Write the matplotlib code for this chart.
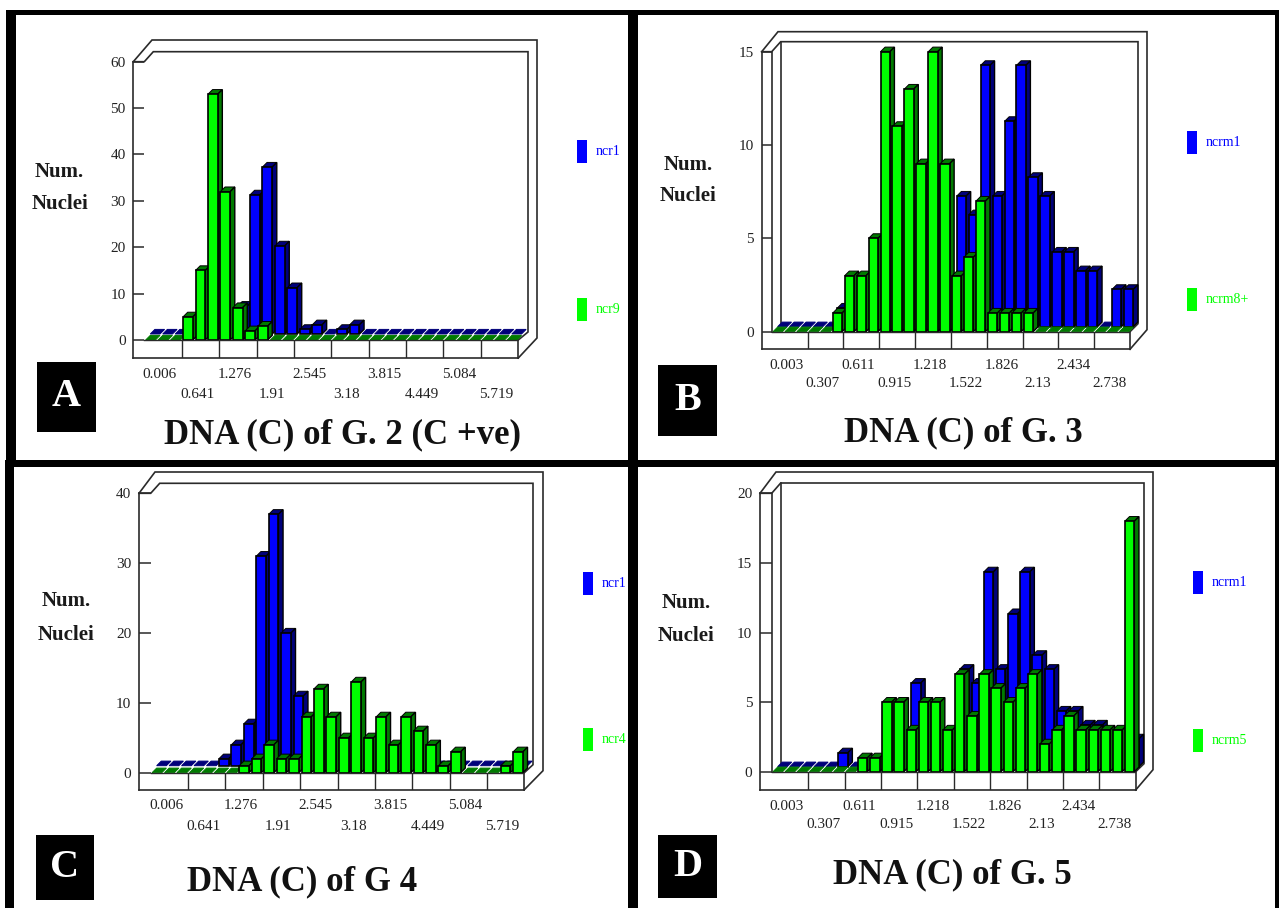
import matplotlib

matplotlib.use("Agg")

import matplotlib.pyplot as plt
from matplotlib.patches import Rectangle

plt.rcParams["font.family"] = ["Liberation Serif", "DejaVu Serif"]

WIDTH, HEIGHT = 1279, 908

# counts per bin
ncr1 = [0, 0, 0, 0, 0, 1, 3, 6, 30, 36, 19, 10, 1, 2, 0, 1, 2, 0, 0, 0, 0, 0, 0, 0, 0, 0, 0, 0, 0, 0]
ncr9 = [0, 0, 0, 5, 15, 53, 32, 7, 2, 3, 0, 0, 0, 0, 0, 0, 0, 0, 0, 0, 0, 0, 0, 0, 0, 0, 0, 0, 0, 0]
ncr4 = [0, 0, 0, 0, 0, 0, 0, 1, 2, 4, 2, 2, 8, 12, 8, 5, 13, 5, 8, 4, 8, 6, 4, 1, 3, 0, 0, 0, 1, 3]
ncrm1 = [0, 0, 0, 0, 0, 1, 0, 0, 0, 0, 0, 6, 0, 0, 0, 7, 6, 14, 7, 11, 14, 8, 7, 4, 4, 3, 3, 0, 2, 2]
ncrm8 = [0, 0, 0, 0, 0, 1, 3, 3, 5, 15, 11, 13, 9, 15, 9, 3, 4, 7, 1, 1, 1, 1, 0, 0, 0, 0, 0, 0, 0, 0]
ncrm5 = [0, 0, 0, 0, 0, 0, 0, 1, 1, 5, 5, 3, 5, 5, 3, 7, 4, 7, 6, 5, 6, 7, 2, 3, 4, 3, 3, 3, 3, 18]

wide_labels = ["0.006", "0.641", "1.276", "1.91", "2.545", "3.18", "3.815", "4.449", "5.084", "5.719"]
narrow_labels = ["0.003", "0.307", "0.611", "0.915", "1.218", "1.522", "1.826", "2.13", "2.434", "2.738"]

# layout of each panel, in pixels of the figure
panels = [
    dict(letter="A", title="DNA (C) of G. 2 (C +ve)", blue=ncr1, green=ncr9, labels=wide_labels,
         names=("ncr1", "ncr9"), yticks=[0, 10, 20, 30, 40, 50, 60], ymax=60,
         left=133.3, x0=144.3, right=518.3, floor=340, top=61.7, bottom=358,
         in_right=528, out_right=537, in_top=51.7, out_top=40, corner=152, walls=False,
         shift=6, row_gap=20, box=(37, 362, 96, 432), title_xy=(342, 435),
         num_xy=(59, 172, 60, 204), leg_x=577, leg_y=(140, 298)),
    dict(letter="B", title="DNA (C) of G. 3", blue=ncrm1, green=ncrm8, labels=narrow_labels,
         names=("ncrm1", "ncrm8+"), yticks=[0, 5, 10, 15], ymax=15,
         left=761.7, x0=771.7, right=1130, floor=331.7, top=51.7, bottom=349.3,
         in_right=1138, out_right=1147, in_top=41.7, out_top=31.7, corner=778, walls=True,
         shift=5, row_gap=18, box=(658, 365, 717, 436), title_xy=(963, 433),
         num_xy=(688, 165, 688, 196), leg_x=1187, leg_y=(131, 288)),
    dict(letter="C", title="DNA (C) of G 4", blue=ncr1, green=ncr4, labels=wide_labels,
         names=("ncr1", "ncr4"), yticks=[0, 10, 20, 30, 40], ymax=40,
         left=139, x0=150.7, right=524.3, floor=772.7, top=493.3, bottom=789.7,
         in_right=533, out_right=543, in_top=483.3, out_top=472, corner=155, walls=False,
         shift=7, row_gap=21, box=(36, 835, 94, 900), title_xy=(302, 882),
         num_xy=(66, 601, 66, 635), leg_x=583, leg_y=(572, 728)),
    dict(letter="D", title="DNA (C) of G. 5", blue=ncrm1, green=ncrm5, labels=narrow_labels,
         names=("ncrm1", "ncrm5"), yticks=[0, 5, 10, 15, 20], ymax=20,
         left=760, x0=771.7, right=1135.7, floor=771.7, top=493.3, bottom=790,
         in_right=1144, out_right=1153, in_top=483, out_top=472, corner=776, walls=True,
         shift=5, row_gap=18, box=(658, 835, 717, 898), title_xy=(952, 875),
         num_xy=(686, 603, 686, 636), leg_x=1193, leg_y=(571, 729)),
]

BLUE, DARK_BLUE = "#0000ff", "#00007a"
GREEN, DARK_GREEN = "#00ff00", "#007a00"
LINE = "#2a2a2a"
DEPTH_PX = 4.6


def draw_bars(ax, values, front, dark, dx, dy, shift_x=0, shift_y=0):
    for i, value in enumerate(values):
        x = i + 0.11 + shift_x
        w = 0.78
        y = shift_y + value
        # empty bins are just a flat tile on the floor
        tile_edge = "black" if value > 0 else dark
        ax.fill(
            [x, x + w, x + w + dx, x + dx],
            [y, y, y + dy, y + dy],
            facecolor=dark, edgecolor=tile_edge, linewidth=0.7, clip_on=False,
        )
        if value > 0:
            ax.fill(
                [x + w, x + w + dx, x + w + dx, x + w],
                [shift_y, shift_y + dy, y + dy, y],
                facecolor=dark, edgecolor="black", linewidth=1.0, clip_on=False,
            )
            ax.bar(
                x, value, width=w, bottom=shift_y, align="edge",
                color=front, edgecolor="black", linewidth=1.2, clip_on=False,
            )


def draw_frame(bg, p):
    segments = [
        ([p["left"], p["corner"], p["out_right"], p["out_right"], p["right"]],
         [p["top"], p["out_top"], p["out_top"], p["floor"] - 2, p["bottom"]]),
        ([p["left"], p["x0"], p["x0"] + 9, p["in_right"], p["in_right"], p["right"]],
         [p["top"], p["top"], p["in_top"], p["in_top"], p["floor"] - 8, p["floor"]]),
        ([p["right"], p["right"]], [p["floor"], p["bottom"]]),
    ]
    if p["walls"]:
        segments.append(([p["x0"], p["x0"]], [p["top"], p["floor"]]))
        segments.append(([p["x0"] + 9, p["x0"] + 9], [p["in_top"], p["floor"] - 7]))
    for xs, ys in segments:
        bg.plot(xs, ys, color=LINE, linewidth=1.2, solid_joinstyle="miter")


fig = plt.figure(figsize=(WIDTH / 100, HEIGHT / 100), dpi=100, facecolor="white")

bg = fig.add_axes([0, 0, 1, 1])
bg.set_xlim(0, WIDTH)
bg.set_ylim(HEIGHT, 0)
bg.axis("off")

# black rules around and between the panels
for x1, y1, x2, y2 in [
    (6, 10, 1279, 15), (6, 10, 16, 460), (5, 460, 14, 908), (628, 10, 638, 908),
    (5, 460, 1279, 467), (1275, 10, 1279, 908),
]:
    bg.add_patch(Rectangle((x1, y1), x2 - x1, y2 - y1, color="black", linewidth=0))

for p in panels:
    draw_frame(bg, p)

    x1, y1, x2, y2 = p["box"]
    bg.add_patch(Rectangle((x1, y1), x2 - x1, y2 - y1, color="black", linewidth=0))
    bg.text((x1 + x2) / 2, (y1 + y2) / 2, p["letter"], color="white", fontsize=29,
            fontweight="bold", ha="center", va="center")

    bg.text(*p["title_xy"], p["title"], fontsize=25, fontweight="bold", ha="center", va="center",
            color="#111111")

    nx1, ny1, nx2, ny2 = p["num_xy"]
    bg.text(nx1, ny1, "Num.", fontsize=15, fontweight="bold", ha="center", va="center", color="#1a1a1a")
    bg.text(nx2, ny2, "Nuclei", fontsize=15, fontweight="bold", ha="center", va="center", color="#1a1a1a")

    for name, y, color in zip(p["names"], p["leg_y"], (BLUE, GREEN)):
        bg.add_patch(Rectangle((p["leg_x"], y), 10, 23, color=color, linewidth=0))
        bg.text(p["leg_x"] + 19, y + 11.5, name, color=color, fontsize=10, ha="left", va="center")

    bin_w = (p["right"] - p["x0"]) / len(p["blue"])
    unit = (p["floor"] - p["top"]) / p["ymax"]

    ax = fig.add_axes([
        p["left"] / WIDTH,
        1 - p["bottom"] / HEIGHT,
        (p["right"] - p["left"]) / WIDTH,
        (p["bottom"] - p["top"]) / HEIGHT,
    ])
    ax.patch.set_alpha(0)
    ax.set_xlim((p["left"] - p["x0"]) / bin_w, len(p["blue"]))
    ax.set_ylim((p["floor"] - p["bottom"]) / unit, p["ymax"])

    dx = DEPTH_PX / bin_w
    dy = DEPTH_PX / unit
    draw_bars(ax, p["blue"], BLUE, DARK_BLUE, dx, dy, shift_x=dx, shift_y=p["shift"] / unit)
    draw_bars(ax, p["green"], GREEN, DARK_GREEN, dx, dy)

    for side in ("top", "right"):
        ax.spines[side].set_visible(False)
    for side in ("left", "bottom"):
        ax.spines[side].set_color(LINE)
        ax.spines[side].set_linewidth(1.2)

    # floor edge and the short dividers under it
    ax.plot([0, len(p["blue"])], [0, 0], color=LINE, linewidth=1.0)
    ax.vlines(range(3, 30, 3), (p["floor"] - p["bottom"]) / unit, 0, color=LINE, linewidth=1.0)

    ax.set_yticks(p["yticks"])
    ax.tick_params(axis="y", direction="in", length=(p["x0"] - p["left"]) * 0.72, width=1.1,
                   color=LINE, pad=5.5, labelsize=11, labelcolor="#222222")
    ax.set_xticks([1.25 + 3 * k for k in range(10)])
    ax.set_xticklabels(p["labels"])
    ax.tick_params(axis="x", length=0, pad=7, labelsize=11, labelcolor="#222222")
    for tick in ax.xaxis.get_major_ticks()[1::2]:
        tick.set_pad(7 + p["row_gap"] * 0.72)

fig.savefig("out.png", dpi=100)
